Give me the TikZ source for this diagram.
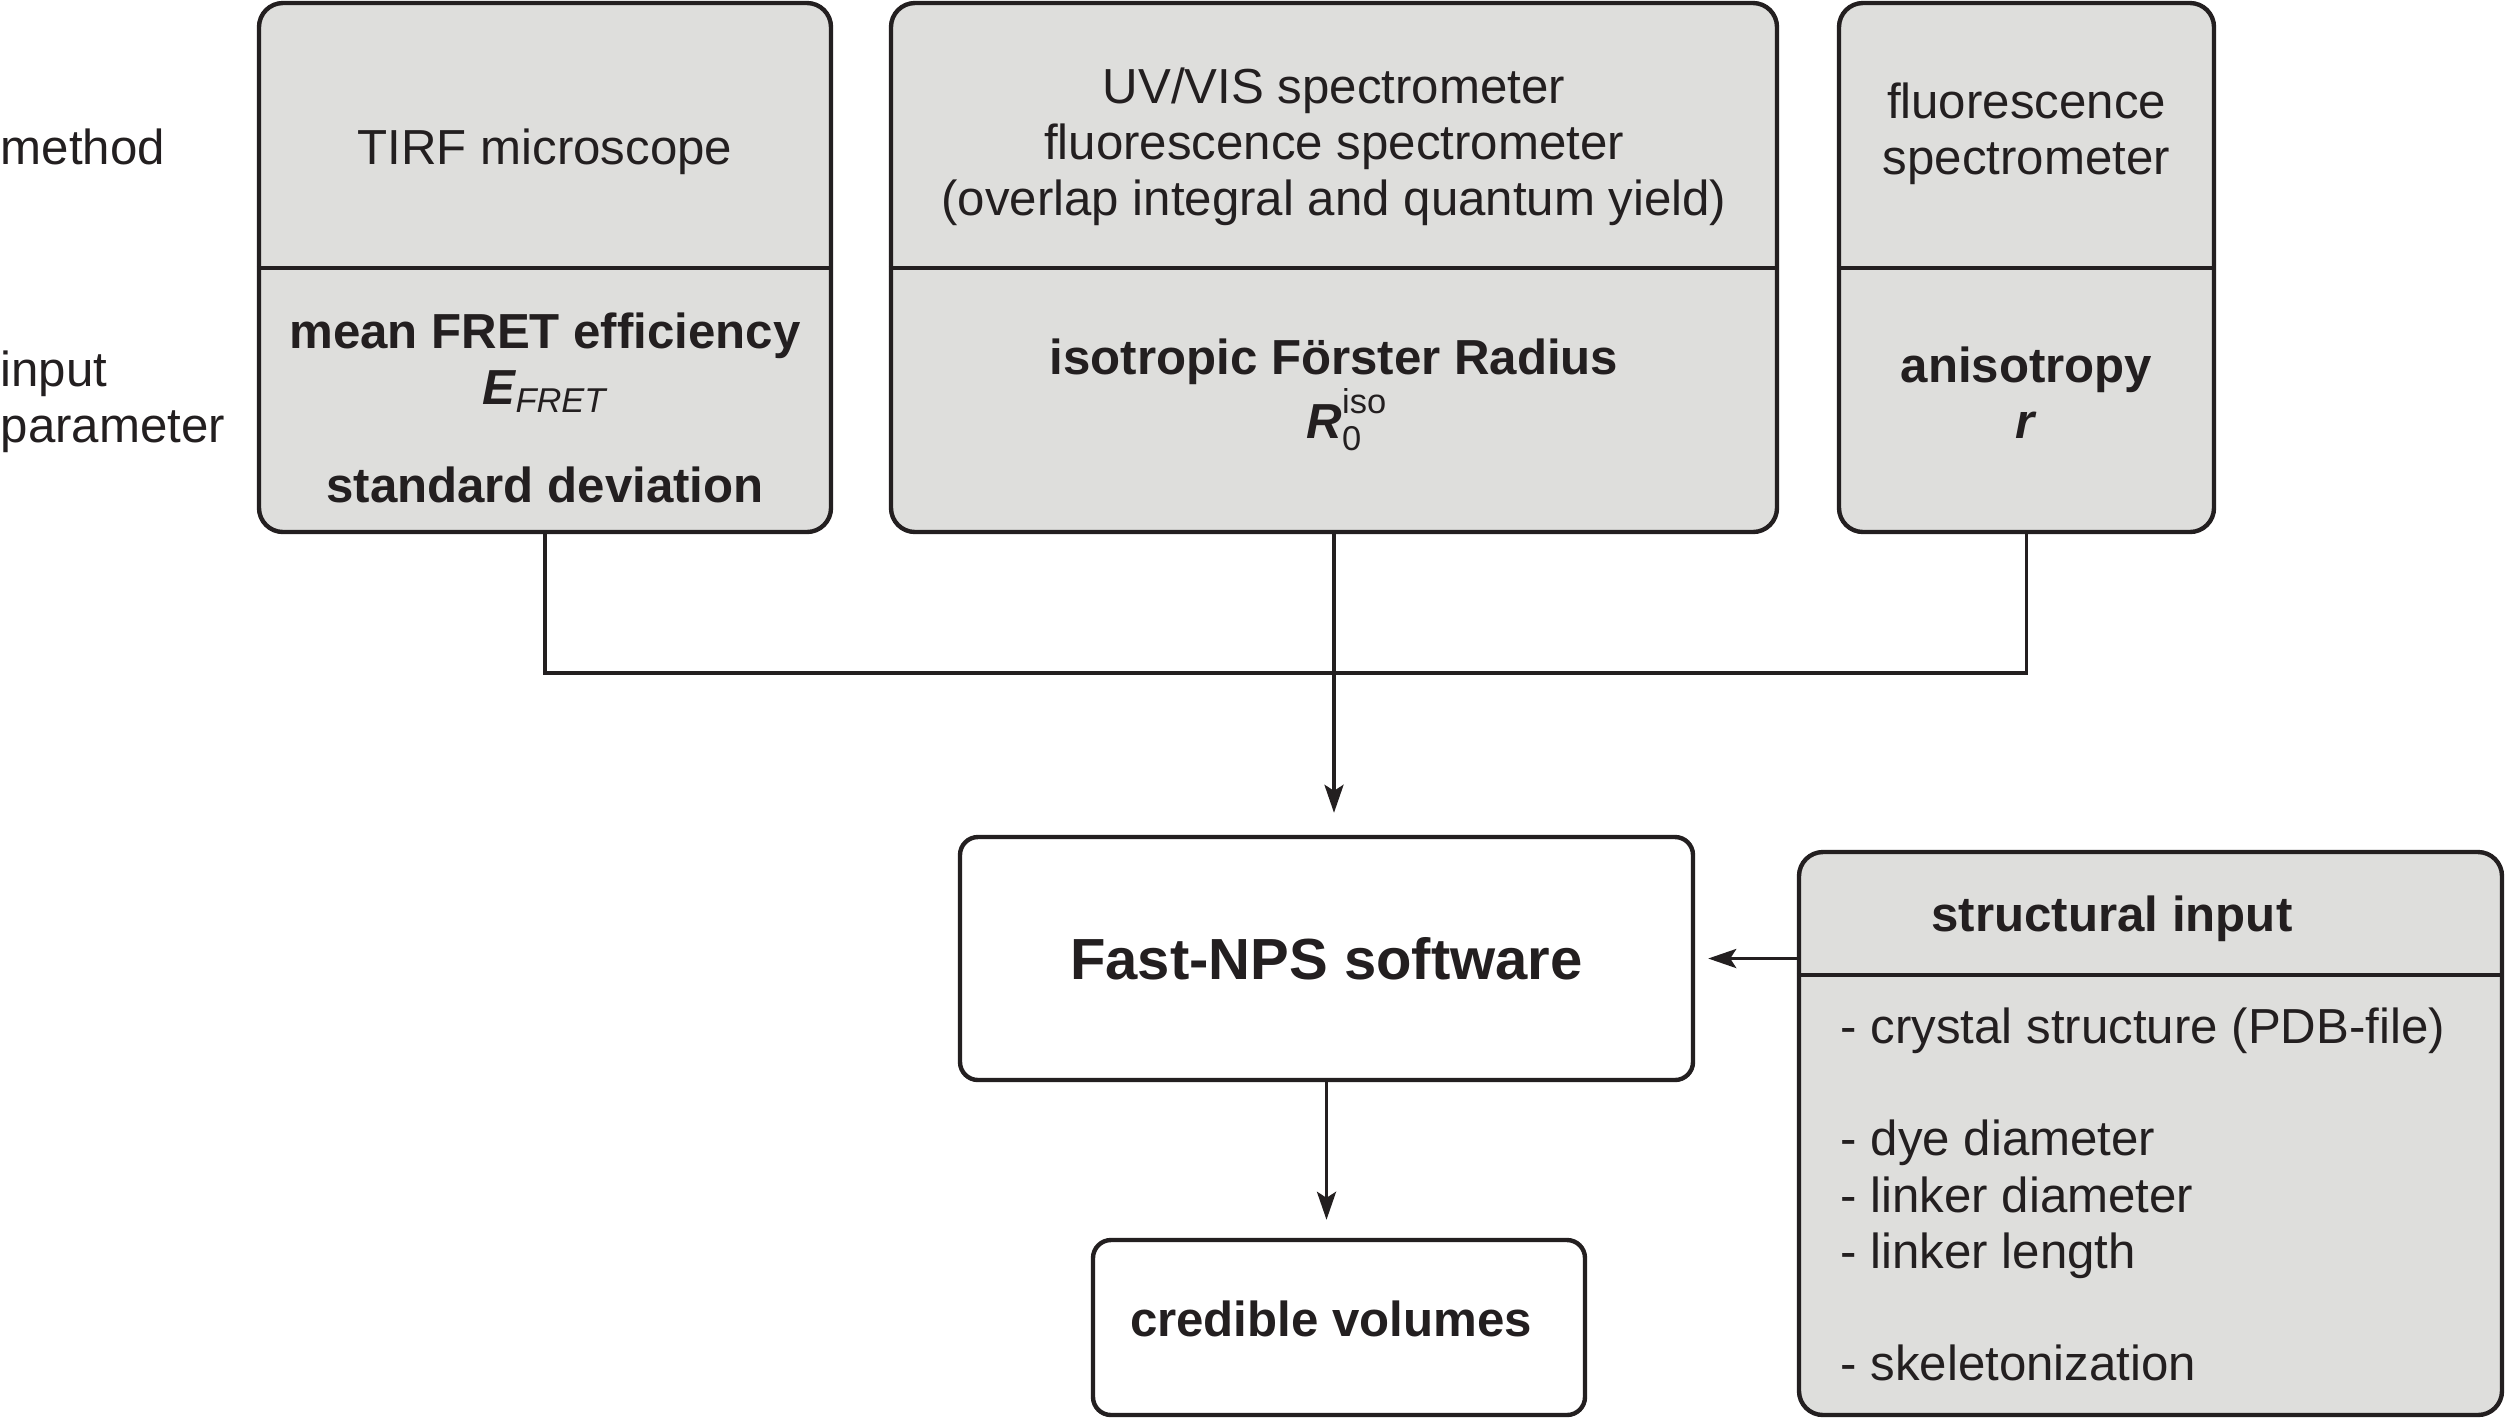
\documentclass[tikz,border=0pt]{standalone}
\usepackage{fontspec}
\setmainfont{Liberation Sans}
\usetikzlibrary{positioning,arrows.meta}
\definecolor{boxgray}{RGB}{222,222,220}
\definecolor{ink}{RGB}{35,31,32}

\begin{document}
\begin{tikzpicture}
	\tikzstyle{box}=[rectangle, rounded corners=0.24cm, draw=ink, line width=1.25pt, fill=boxgray, inner sep=0pt]
	\tikzstyle{result}=[rectangle, rounded corners=0.18cm, draw=ink, line width=1.25pt, fill=white, text=ink, inner sep=0pt, font=\fontsize{14}{16}\selectfont\bfseries]
	\tikzstyle{txt}=[inner sep=0pt, align=center, text=ink, font=\fontsize{14}{16}\selectfont]
	\tikzstyle{txtb}=[txt, font=\fontsize{14}{16}\selectfont\bfseries]
	\tikzstyle{connect}=[line width=1pt, draw=ink]
	\tikzstyle{arrow}=[connect, -{Stealth[length=0.28cm, width=0.19cm, inset=0.06cm]}]
	\useasboundingbox (0,0) rectangle (25.05,-14.19);

	% upper row: method / input parameter
	\node[box, minimum width=5.72cm, minimum height=5.29cm] (tirf)  at (5.45,-2.675) {};
	\node[box, minimum width=8.86cm, minimum height=5.29cm] (uvvis) at (13.34,-2.675) {};
	\node[box, minimum width=3.75cm, minimum height=5.29cm] (fluo)  at (20.265,-2.675) {};
	\foreach \b in {tirf,uvvis,fluo}
		\draw[line width=1.25pt, draw=ink] (\b.west |- 0,-2.68) -- (\b.east |- 0,-2.68);

	\node[txt, anchor=west] (method) at (0,-1.47) {method};
	\node[txt, anchor=west, align=left] (param) at (0,-4.02) {input\\ parameter};

	\node[txt]  (tirfm) at (5.45,-1.52) {TIRF microscope};
	\node[txtb] (tirfp) at (5.45,-4.08) {mean FRET efficiency\\ {\itshape E\textsubscript{\mdseries FRET}}\\[12pt] standard deviation};
	\node[txt]  (uvvism) at (13.34,-1.47) {UV/VIS spectrometer\\ fluorescence spectrometer\\ (overlap integral and quantum yield)};
	\node[txtb] (uvvisp) at (13.34,-3.95) {isotropic Förster Radius\\ {\itshape R}\rlap{\raisebox{0.5em}{\fontsize{9.8}{10}\selectfont\mdseries iso}}\raisebox{-0.25em}{\fontsize{9.8}{10}\selectfont\mdseries 0}};
	\node[txt]  (fluom) at (20.265,-1.34) {fluorescence\\ spectrometer};
	\node[txtb] (fluop) at (20.265,-3.93) {anisotropy\\ \textit{r}};

	% lower part
	\node[result, minimum width=7.33cm, minimum height=2.43cm, font=\fontsize{16.5}{19}\selectfont\bfseries] (fast) at (13.265,-9.585) {Fast-NPS software};
	\node[result, minimum width=4.92cm, minimum height=1.75cm] (cred) at (13.39,-13.275) {};
	\node[txtb] (credt) at (13.31,-13.19) {credible volumes};

	\node[box, minimum width=7.03cm, minimum height=5.63cm] (struct) at (21.505,-11.335) {};
	\draw[line width=1.25pt, draw=ink] (struct.west |- 0,-9.75) -- (struct.east |- 0,-9.75);
	\node[txtb] (structt) at (21.12,-9.19) {structural input};
	\node[txt, anchor=west, align=left] (structl) at (18.40,-11.945) {- crystal structure (PDB-file)\\[16pt] - dye diameter\\ - linker diameter\\ - linker length\\[16pt] - skeletonization};

	\coordinate (join) at (uvvis.south |- 0,-6.73);
	\draw[connect] (tirf.south) |- (join) -| (fluo.south);
	\draw[arrow, shorten >=0.22cm] (uvvis.south) -- (uvvis.south |- fast.north);
	\draw[arrow, shorten >=0.13cm] (struct.west |- fast.east) -- (fast.east);
	\draw[arrow, shorten >=0.18cm] (fast.south) -- (fast.south |- cred.north);
\end{tikzpicture}
\end{document}
